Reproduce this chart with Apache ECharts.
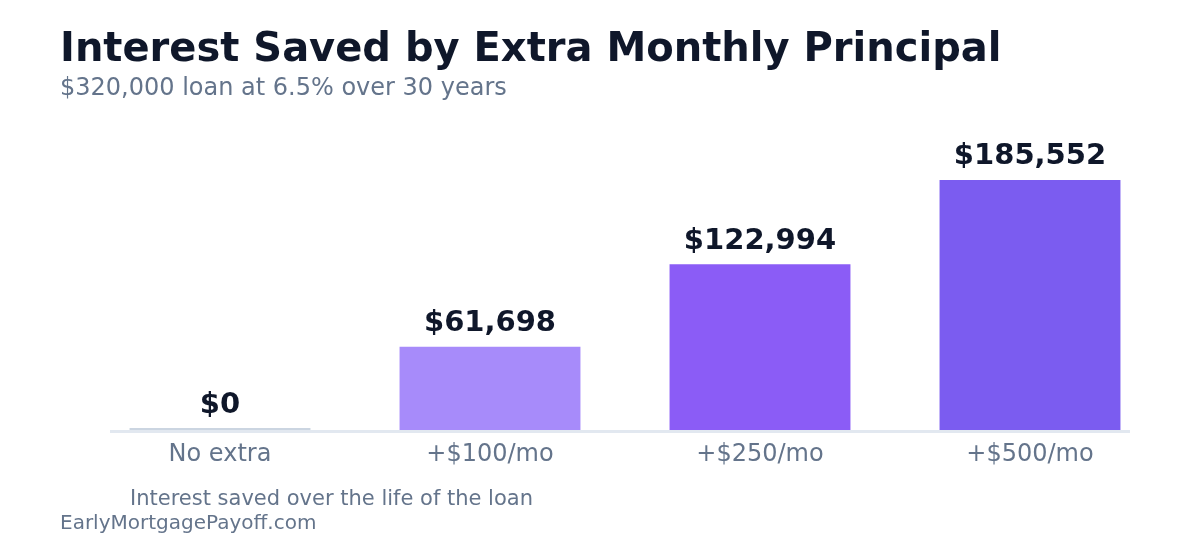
<!DOCTYPE html>
<html>
<head>
<meta charset="utf-8">
<script src="https://cdn.jsdelivr.net/npm/echarts@6/dist/echarts.min.js"></script>
<style>
html,body{margin:0;padding:0;background:#ffffff;}
#chart{width:1200px;height:560px;}
</style>
</head>
<body>
<div id="chart"></div>
<script>
const categories = ['No extra', '+$100/mo', '+$250/mo', '+$500/mo'];
const interestSaved = [0, 61698, 122994, 185552];
const barColors = ['#cbd5e1', '#a78bfa', '#8b5cf6', '#7b5cf0'];

const FONT = 'DejaVu Sans';
const chart = echarts.init(document.getElementById('chart'), null, {renderer: 'canvas'});

chart.setOption({
  backgroundColor: '#ffffff',
  animation: false,
  title: [
    {text: 'Interest Saved by Extra Monthly Principal', left: 60, top: 31, padding: 0,
     textStyle: {fontFamily: FONT, fontSize: 40, fontWeight: 'bold', color: '#0f172a'}},
    {text: '$320,000 loan at 6.5% over 30 years', left: 60, top: 77, padding: 0,
     textStyle: {fontFamily: FONT, fontSize: 24, fontWeight: 'normal', color: '#64748b'}},
    {text: 'Interest saved over the life of the loan', left: 130, top: 489, padding: 0,
     textStyle: {fontFamily: FONT, fontSize: 21, fontWeight: 'normal', color: '#64748b'}},
    {text: 'EarlyMortgagePayoff.com', left: 60, top: 514, padding: 0,
     textStyle: {fontFamily: FONT, fontSize: 20, fontWeight: 'normal', color: '#64748b'}}
  ],
  grid: {left: 85, right: 35, top: 160.5, bottom: 130, containLabel: false},
  xAxis: {
    type: 'category',
    data: categories,
    axisLine: {show: false},
    axisTick: {show: false},
    axisLabel: {fontFamily: FONT, fontSize: 24, color: '#64748b', margin: 13}
  },
  yAxis: {
    type: 'value',
    min: 0,
    max: 200000,
    show: false,
    splitLine: {show: false}
  },
  graphic: [
    {type: 'line', z: 0, shape: {x1: 110, y1: 431.5, x2: 1130, y2: 431.5},
     style: {stroke: '#e2e8f0', lineWidth: 3}}
  ],
  series: [{
    type: 'bar',
    barWidth: '67%',
    barMinHeight: 2,
    data: interestSaved.map((v, i) => ({value: v, itemStyle: {color: barColors[i]}})),
    label: {
      show: true,
      position: 'top',
      distance: 8.5,
      fontFamily: FONT,
      fontSize: 29,
      fontWeight: 'bold',
      color: '#0f172a',
      formatter: p => '$' + p.value.toLocaleString('en-US')
    }
  }]
});
</script>
</body>
</html>
